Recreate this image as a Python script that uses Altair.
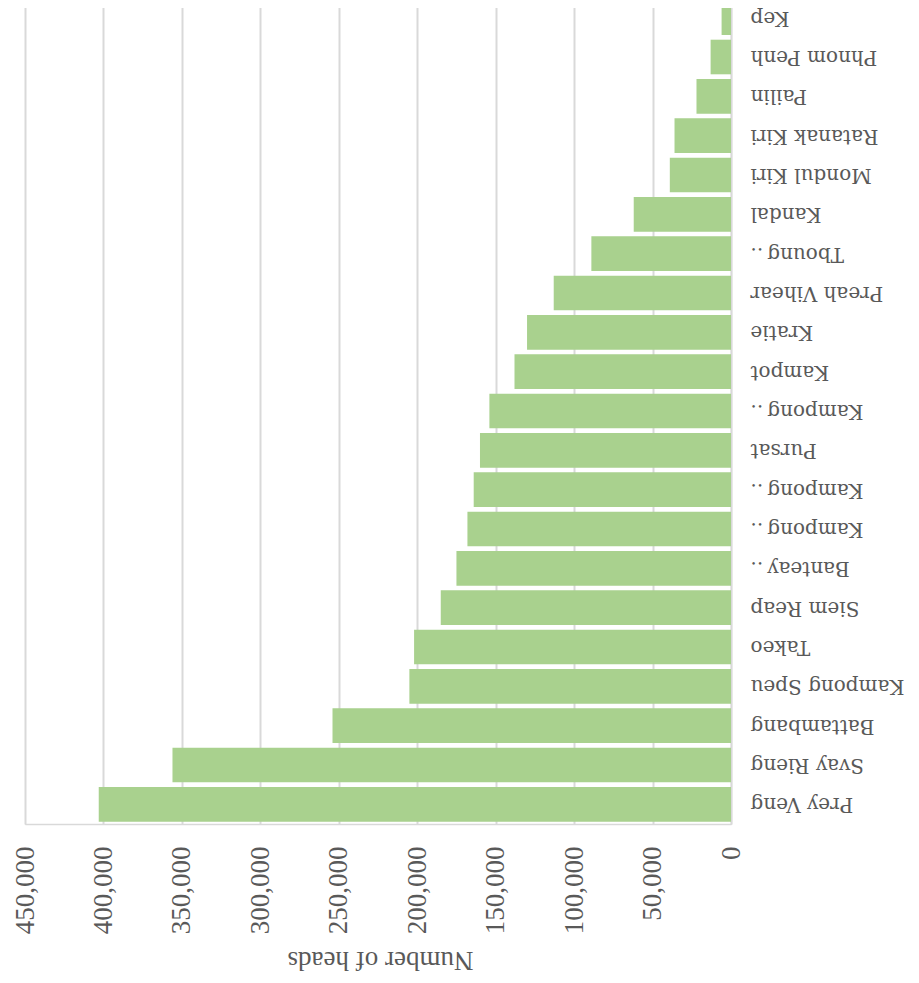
import altair as alt
import pandas as pd

provinces = ["Kep", "Phnom Penh", "Pailin", "Ratanak Kiri", "Mondul Kiri", "Kandal",
             "Tboung Khmum", "Preah Vihear", "Kratie", "Kampot", "Kampong Thom", "Pursat",
             "Kampong Chhnang", "Kampong Cham", "Banteay Meanchey", "Siem Reap", "Takeo",
             "Kampong Speu", "Battambang", "Svay Rieng", "Prey Veng"]
heads = [6000, 13000, 22000, 36000, 39000, 62000,
         89000, 113000, 130000, 138000, 154000, 160000,
         164000, 168000, 175000, 185000, 202000,
         205000, 254000, 356000, 403000]
short_labels = {"Tboung Khmum": "Tboung\u2009..", "Kampong Thom": "Kampong\u2009..",
                "Kampong Chhnang": "Kampong\u2009..", "Kampong Cham": "Kampong\u2009..",
                "Banteay Meanchey": "Banteay\u2009.."}
x_ticks = [0, 50000, 100000, 150000, 200000, 250000, 300000, 350000, 400000, 450000]

df = pd.DataFrame({"province": provinces, "heads": heads})

expr = "datum.value"
for full, short in short_labels.items():
    expr = f"datum.value === '{full}' ? '{short}' : ({expr})"

grey = "#595959"
grid = "#d9d9d9"

chart = alt.Chart(df).mark_bar(color="#a9d18e").encode(
    x=alt.X("heads:Q",
            scale=alt.Scale(domain=[0, 450000], reverse=True, nice=False),
            axis=alt.Axis(orient="bottom", values=x_ticks, format=",.0f", title="Number of heads",
                          labelAngle=270, labelFont="Liberation Serif", labelFontSize=27,
                          labelColor=grey, labelPadding=22, ticks=False,
                          domainColor=grid, domainWidth=1.5,
                          gridColor=grid, gridWidth=2,
                          titleFont="Liberation Serif", titleFontSize=27, titleFontWeight="normal",
                          titleColor=grey, titleAngle=180, titleX=355, titleY=135,
                          titleAlign="center", titleBaseline="middle")),
    y=alt.Y("province:N", sort=provinces,
            scale=alt.Scale(paddingInner=0.12, paddingOuter=0.06),
            axis=alt.Axis(orient="right", title=None, labelAngle=180, labelAlign="right",
                          labelBaseline="middle", labelFont="DejaVu Serif", labelFontSize=20,
                          labelColor=grey, labelPadding=19, ticks=False, labelLimit=0,
                          domainColor=grid, domainWidth=1.5, labelExpr=expr)),
).properties(
    width=706, height=826,
    autosize=alt.AutoSizeParams(type="none"),
    padding={"left": 17, "top": -10, "right": 180, "bottom": 151},
).configure_view(stroke=None).configure(background="white")

chart.save("out.html", embed_options={"renderer": "svg", "actions": False})
